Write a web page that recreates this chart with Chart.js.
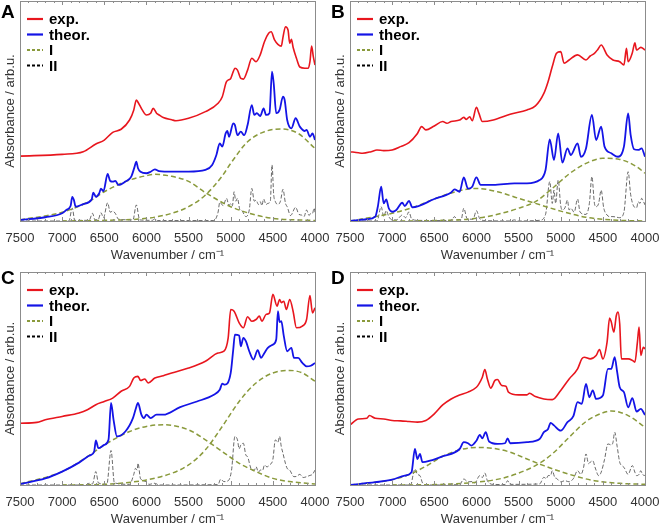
<!DOCTYPE html>
<html>
<head>
<meta charset="utf-8">
<script src="https://cdn.jsdelivr.net/npm/chart.js@4.4.0/dist/chart.umd.min.js"></script>
<style>
  body { margin: 0; background: #fff; }
  #wrap { position: relative; width: 660px; height: 527px; }
  #wrap canvas { position: absolute; }
  .tag { position: absolute; font: bold 19px "Liberation Sans", Arial, sans-serif; color: #000; }
</style>
</head>
<body>
<div id="wrap">
  <canvas id="cA" width="330" height="263" style="left:0;top:0"></canvas>
  <canvas id="cB" width="330" height="263" style="left:330px;top:0"></canvas>
  <canvas id="cC" width="330" height="264" style="left:0;top:263px"></canvas>
  <canvas id="cD" width="330" height="264" style="left:330px;top:263px"></canvas>
  <div class="tag" style="left:1px;top:1px">A</div>
  <div class="tag" style="left:331px;top:1px">B</div>
  <div class="tag" style="left:1px;top:267px">C</div>
  <div class="tag" style="left:331px;top:267px">D</div>
</div>
<script>
// wavenumber ticks (cm-1), axis runs 7500 -> 4000
const xTicks = [7500, 7000, 6500, 6000, 5500, 5000, 4500, 4000];

// --- panel A ---
const aExp = [[7500,29.5],[7000,30.3],[6750,31.5],[6600,35],[6500,36.8],[6400,40.3],[6300,41.7],[6200,45.9],[6150,50.5],[6120,55],[6100,54],[6050,50.5],[6000,48.2],[5950,49],[5920,51.2],[5880,49],[5850,48.2],[5800,47],[5700,46],[5650,45.6],[5500,46.7],[5300,49.7],[5150,53.5],[5100,56.5],[5050,63.3],[5000,64.8],[4970,67.9],[4950,69.4],[4920,68.6],[4880,64.8],[4850,64.5],[4800,68.6],[4750,74],[4700,72.4],[4650,75.5],[4600,81.5],[4550,85.3],[4520,86],[4480,82.3],[4440,80.3],[4400,79.5],[4380,83.5],[4350,88.3],[4320,86.8],[4300,80.8],[4280,82.6],[4260,79],[4220,74],[4180,70],[4120,69.4],[4080,69.4],[4060,72.4],[4040,79.5],[4020,74.7],[4000,70.9]];
const aTheor = [[7500,0.5],[7200,1.7],[7000,3.5],[6950,5],[6900,6.8],[6880,11],[6860,9.5],[6840,6.5],[6750,7.7],[6650,9.8],[6630,12.9],[6600,11],[6560,12.6],[6540,14.7],[6510,13.6],[6460,21.4],[6430,18.2],[6400,17.9],[6370,18.2],[6330,16.4],[6250,17.9],[6180,20.2],[6140,24.7],[6120,27],[6100,24],[6070,22.4],[6000,21.7],[5950,22.4],[5900,23.5],[5850,22.7],[5700,22.4],[5500,22.4],[5300,23.2],[5220,25.5],[5170,30],[5130,35.3],[5100,33.8],[5060,39.8],[5040,40.9],[5020,38.3],[4970,44.4],[4950,43.6],[4920,39],[4880,40.6],[4840,39],[4800,43.6],[4750,52.7],[4720,48.2],[4690,49],[4650,47.7],[4610,51.2],[4580,48.2],[4540,49],[4510,67.9],[4490,62.6],[4460,49],[4420,50.5],[4380,56.5],[4360,55],[4330,45.9],[4280,42.1],[4230,46.7],[4180,42.9],[4120,40.9],[4100,41.4],[4060,38.3],[4030,39.8],[4000,36.8]];
const aBandI1 = [[7500,0.5],[7000,4],[6700,8.5],[6500,13.3],[6200,18.6],[6000,20.6],[5900,21.2],[5700,20.3],[5500,18],[5300,12.9],[5000,6.5],[4700,2.7],[4500,1.2],[4000,0.2]];
const aBandI2 = [[7000,0],[6500,0.3],[6000,1.2],[5700,3.5],[5500,6.5],[5300,11.8],[5100,20.5],[5000,26.2],[4800,36],[4600,40.6],[4400,41.8],[4200,39.8],[4000,33]];
const aBandII = [[7500,0],[6920,0],[6880,5.8],[6850,0.3],[6680,0.3],[6640,3.5],[6610,0.5],[6570,0.8],[6540,3.8],[6510,1.5],[6460,8.3],[6430,4],[6400,4.5],[6370,3.5],[6330,0.8],[6160,0.5],[6120,7.3],[6080,0.5],[5930,0.3],[5900,1],[5870,0.2],[5200,0.2],[5150,4],[5130,8.5],[5090,7],[5050,10.3],[5020,7],[5000,8],[4980,7],[4960,13.3],[4940,9],[4920,10.3],[4890,5],[4870,4.7],[4820,2],[4780,5],[4750,14.8],[4720,9],[4700,9.5],[4670,7.5],[4650,8.8],[4630,7],[4610,10],[4580,7.5],[4560,8],[4530,9],[4510,25.5],[4490,12],[4470,8.8],[4440,7.5],[4410,9],[4380,14.4],[4350,8],[4330,6.5],[4290,2.5],[4230,6.2],[4190,3],[4160,2.7],[4130,2],[4100,5],[4070,2.5],[4050,3.5],[4030,3.5],[4010,5.8],[4000,4]];

// --- panel B ---
const bExp = [[7500,31.5],[7400,31],[7350,30.8],[7250,31.5],[7180,32.3],[7100,32],[7000,32.3],[6900,33.8],[6800,35.6],[6700,39.8],[6650,42.9],[6600,41.4],[6500,43.2],[6400,45.2],[6350,44.4],[6300,45.2],[6200,45.9],[6150,47.1],[6120,46.2],[6080,47.4],[6050,45.6],[6000,51.7],[5970,48.9],[5930,45.2],[5800,45.9],[5600,48.5],[5400,50.5],[5300,52.3],[5200,58],[5150,63.3],[5100,70.2],[5050,76.2],[5000,77],[4960,71.7],[4900,73.2],[4800,75.5],[4700,73.2],[4650,75],[4600,76.2],[4560,78],[4520,80],[4450,75.5],[4380,73.2],[4300,72.4],[4250,70.9],[4220,78.5],[4200,72.4],[4150,76.5],[4120,81],[4100,77.7],[4050,78.9],[4000,77.7]];
const bTheor = [[7500,0],[7300,0.8],[7200,2],[7170,6.5],[7130,15.6],[7100,8],[7070,9.8],[7040,5.8],[7000,4.2],[6950,5],[6880,8.3],[6850,6.8],[6800,9.1],[6760,6.2],[6500,10],[6300,13],[6260,14.4],[6200,13.3],[6150,19.8],[6100,14.7],[6050,15.6],[6000,19.8],[5950,16.4],[5800,16.4],[5550,17.1],[5400,17.1],[5250,18.6],[5180,23.2],[5130,37.1],[5080,27.7],[5030,39.8],[4980,26.5],[4920,33],[4880,30],[4800,35.3],[4760,29.2],[4700,33],[4630,48.2],[4580,36.8],[4520,42.9],[4480,33.8],[4400,30.8],[4320,29.2],[4250,33.8],[4200,48.9],[4170,39],[4130,32.6],[4080,32.3],[4040,33],[4000,29.2]];
const bBandI1 = [[7500,0],[7000,3.5],[6750,6.2],[6500,10],[6250,13.3],[6000,14.8],[5750,13.3],[5500,10.3],[5300,8],[5000,4.5],[4700,1.7],[4400,0.5],[4000,0]];
const bBandI2 = [[7000,0],[6500,0.2],[6000,1.2],[5700,3.5],[5500,5.8],[5300,8.8],[5100,14.8],[4900,21.4],[4700,26.2],[4500,28.5],[4300,28],[4100,24.7],[4000,21.7]];
const bBandII = [[7500,0],[7180,0],[7130,6.5],[7100,2],[7070,4.7],[7040,2],[7000,0.5],[6950,0.5],[6880,2.7],[6840,1.5],[6800,4.2],[6770,1],[6700,0.3],[6300,0.2],[6260,2],[6230,0.5],[6180,0.8],[6150,5.8],[6110,1],[6040,0.8],[6000,4.7],[5960,1],[5900,0.2],[5600,0],[5550,0.5],[5500,0],[5250,0.3],[5180,3],[5130,17.9],[5100,8],[5080,14],[5060,8],[5030,18.6],[5000,7],[4980,5],[4950,6],[4920,9.5],[4900,5],[4880,5.8],[4840,4],[4800,10],[4770,4],[4700,3],[4660,8],[4630,20.2],[4600,8],[4580,6.5],[4550,8],[4520,14],[4490,6],[4450,2.7],[4420,2],[4380,2],[4300,1.5],[4250,4],[4200,22.4],[4170,12],[4130,6.5],[4100,6],[4080,8.8],[4060,8],[4040,10.3],[4020,9],[4000,7.3]];

// --- panel C ---
const cExp = [[7500,29],[7300,29.4],[7200,30.6],[7000,32.2],[6800,33.8],[6700,35.3],[6600,37.7],[6500,39.2],[6400,40.8],[6300,44],[6200,46.3],[6150,50.2],[6100,51],[6070,49.1],[6020,49.8],[5980,47.9],[5900,50.2],[5800,51.3],[5700,52.6],[5500,54.9],[5300,58.1],[5150,62],[5080,62.8],[5030,69.1],[5000,82.4],[4960,81.6],[4900,76.1],[4850,73.8],[4800,79],[4750,76.9],[4700,77.7],[4660,79.3],[4630,76.9],[4580,80.1],[4540,80.8],[4500,89.5],[4450,84],[4420,87.1],[4400,85.6],[4370,86.3],[4340,82.4],[4300,87.1],[4260,81.6],[4220,73.8],[4150,74.6],[4100,77.7],[4060,89],[4030,80.8],[4000,83.2]];
const cTheor = [[7500,0.5],[7200,3.1],[7000,6.3],[6800,10.5],[6700,13.3],[6660,14.1],[6620,15.7],[6600,20.9],[6570,17.3],[6500,18.8],[6450,21.2],[6420,38.5],[6390,30.6],[6350,22.8],[6250,25.1],[6160,31.4],[6130,35.3],[6100,38.5],[6060,33],[6030,31.4],[6000,33],[5950,31.4],[5880,33],[5800,33],[5600,36.6],[5400,39.2],[5200,42.4],[5130,44.7],[5100,47.6],[5070,47.1],[5000,52.6],[4970,63.6],[4950,70.6],[4900,70.2],[4880,65.1],[4850,69.1],[4820,67.5],[4780,62.8],[4730,58.9],[4680,63.3],[4640,59.7],[4600,62],[4560,64.4],[4500,65.9],[4460,68.3],[4440,81.6],[4420,76.5],[4400,76.9],[4370,69.9],[4330,62.8],[4280,64.4],[4250,59.7],[4200,59.7],[4150,57.3],[4100,55.7],[4050,56],[4000,57.3]];
const cBandI1 = [[7500,0.5],[7000,6.3],[6700,13.3],[6500,18.8],[6200,25.1],[6000,27.5],[5800,28.3],[5500,25.9],[5300,21.2],[5100,15.7],[4900,10.2],[4700,6.3],[4500,3.1],[4300,1.6],[4000,0.5]];
const cBandI2 = [[7000,0],[6500,0.3],[6000,2.4],[5700,5.5],[5500,9.4],[5300,16.5],[5100,27.5],[4900,39.2],[4700,47.9],[4500,52.6],[4300,53.8],[4150,52.6],[4000,48.7]];
const cBandII = [[7500,0],[6720,0],[6680,0.8],[6640,0.5],[6600,6.3],[6570,1],[6470,0.3],[6420,16.2],[6380,1],[6200,0.3],[6150,5],[6130,7.8],[6110,7],[6100,10.2],[6070,3],[6000,1.6],[5970,0.3],[5900,0.8],[5850,0],[5150,0.2],[5120,2.7],[5080,1.6],[5030,2],[4990,7],[4950,22.8],[4920,21.2],[4900,17],[4880,18.8],[4850,19.6],[4820,14],[4800,13.3],[4770,9],[4750,7],[4720,7],[4700,8.6],[4670,6],[4650,7],[4620,7],[4600,9.4],[4570,8.5],[4540,9.4],[4500,12],[4470,21.2],[4440,20],[4420,22.8],[4400,18],[4380,14.9],[4350,10],[4330,7.8],[4300,7],[4250,3.9],[4220,4],[4180,5],[4140,3.5],[4100,3.9],[4060,4.5],[4030,5],[4000,7]];

// --- panel D ---
const dExp = [[7500,28.2],[7400,31],[7300,31.3],[7270,32.6],[7200,31.3],[7100,31],[7000,30.3],[6900,30.1],[6800,29.8],[6700,29.5],[6600,30.3],[6500,33.4],[6400,37.6],[6300,40.4],[6200,42.3],[6100,43.6],[6000,45.9],[5970,47.5],[5930,50.6],[5900,54.2],[5870,49.8],[5830,45.5],[5780,49.1],[5750,49.5],[5700,46.7],[5650,46.4],[5620,43.6],[5500,42.3],[5400,42.3],[5370,43.1],[5300,41.5],[5200,40.4],[5100,40.1],[5000,44.4],[4900,49.8],[4800,54.5],[4750,59.2],[4720,60],[4650,59.2],[4580,60.8],[4540,63.6],[4500,59.2],[4450,67.1],[4420,78.4],[4400,76.5],[4370,71.8],[4340,79.6],[4320,81.2],[4300,75.7],[4280,59.2],[4200,59.2],[4150,58.5],[4120,57.7],[4090,67.1],[4070,74.1],[4050,60.8],[4020,64.7],[4000,63.9]];
const dTheor = [[7500,0],[7200,1.3],[7000,2.5],[6850,4.4],[6770,6],[6730,16.9],[6700,12.2],[6670,14.6],[6640,10.7],[6550,11.4],[6400,13.5],[6200,16.9],[6150,20.1],[6100,19.6],[6060,18.5],[6000,20.8],[5960,23.5],[5930,21.9],[5890,24.8],[5850,20.4],[5750,19.3],[5660,19.6],[5630,21.9],[5600,19.6],[5400,20.1],[5250,21.6],[5200,24.8],[5150,26.3],[5120,29.2],[5080,28],[5000,25.5],[4920,29.5],[4850,32.3],[4800,38.9],[4750,38.1],[4700,47.5],[4660,41.2],[4620,44.4],[4580,40.4],[4500,42],[4440,54.5],[4400,54.5],[4360,60],[4330,53],[4300,45.9],[4250,43.6],[4200,36.5],[4150,40.8],[4100,34.5],[4050,35.7],[4000,32.9]];
const dBandI1 = [[7500,0],[7000,2.5],[6800,4.9],[6600,8.8],[6400,13.5],[6200,16.5],[6000,17.6],[5800,17.2],[5600,15.4],[5400,12.2],[5200,9.1],[5000,6.3],[4800,3.9],[4600,2],[4300,0.8],[4000,0.3]];
const dBandI2 = [[7000,0],[6500,0.2],[6000,1.3],[5700,3.1],[5500,5.6],[5300,9.1],[5100,14.6],[4900,22.4],[4700,29.8],[4500,33.9],[4400,34.8],[4200,32.6],[4000,27.1]];
const dBandII = [[7500,0],[6780,0],[6750,5],[6730,7.5],[6700,5],[6670,4.4],[6640,1],[6600,0],[6200,0.2],[6150,2.8],[6100,1.5],[6050,1.6],[6020,1],[5960,4.4],[5930,3.5],[5900,5.6],[5870,2],[5800,0.3],[5660,0.2],[5630,2],[5600,0.3],[5250,0.5],[5200,3.6],[5170,3],[5150,4.4],[5120,4.5],[5100,6.7],[5070,3.5],[5050,3.1],[5000,1.5],[4950,2],[4900,1.5],[4850,3],[4800,6.7],[4760,5],[4730,8],[4700,14.6],[4670,10],[4650,10.7],[4620,11.4],[4590,8],[4550,4.4],[4520,6],[4480,12],[4440,19.3],[4400,18.8],[4380,20],[4360,24.8],[4330,18],[4300,10.7],[4270,9],[4250,8.3],[4200,5],[4150,9.1],[4120,6],[4100,4.4],[4070,5],[4050,6.7],[4030,5],[4000,4.4]];

const FONT = '"Liberation Sans", Arial, Helvetica, sans-serif';
const RED = '#e8161e', BLUE = '#1414e6', OLIVE = '#8a9a3c', DARK = '#333333';

function pts(arr) {
  return arr.map(p => ({ x: p[0], y: p[1] }));
}

// box around the plot with inward ticks, matlab style
const frame = {
  id: 'frame',
  afterDatasetsDraw(chart) {
    const { ctx, chartArea: a, scales: { x } } = chart;
    ctx.save();
    ctx.strokeStyle = '#8c8c8c';
    ctx.lineWidth = 1;
    ctx.strokeRect(Math.round(a.left) + 0.5, Math.round(a.top) + 0.5, Math.round(a.right - a.left), Math.round(a.bottom - a.top));
    for (let v = 4000; v <= 7500; v += 100) {
      const px = Math.round(x.getPixelForValue(v)) + 0.5;
      const len = v % 500 === 0 ? 4 : 2;
      ctx.beginPath();
      ctx.moveTo(px, a.top); ctx.lineTo(px, a.top + len);
      ctx.moveTo(px, a.bottom); ctx.lineTo(px, a.bottom - len);
      ctx.stroke();
    }
    ctx.restore();
  }
};

// legend drawn inside the top-left corner
const keyBox = {
  id: 'keyBox',
  afterDraw(chart) {
    const { ctx, chartArea: a } = chart;
    let row = 0;
    chart.data.datasets.forEach(ds => {
      if (!ds.label) return;
      const y = a.top + 18 + row * 15.5;
      ctx.save();
      ctx.strokeStyle = ds.keyColor || ds.borderColor;
      ctx.lineWidth = 2.2;
      ctx.setLineDash(ds.keyDash || []);
      ctx.beginPath();
      ctx.moveTo(a.left + 7, y);
      ctx.lineTo(a.left + 23, y);
      ctx.stroke();
      ctx.fillStyle = '#000';
      ctx.font = 'bold 15px ' + FONT;
      ctx.textBaseline = 'middle';
      ctx.fillText(ds.label, a.left + 29, y + 1);
      ctx.restore();
      row++;
    });
  }
};

function makePanel(id, exp, theor, bandI1, bandI2, bandII, padTop) {
  const line = { pointRadius: 0, fill: false, cubicInterpolationMode: 'monotone' };
  new Chart(document.getElementById(id), {
    type: 'line',
    data: {
      datasets: [
        { ...line, label: 'exp.', data: pts(exp), borderColor: RED, borderWidth: 1.6 },
        { ...line, label: 'theor.', data: pts(theor), borderColor: BLUE, borderWidth: 1.8 },
        { ...line, label: 'I', data: pts(bandI1), borderColor: OLIVE, borderWidth: 1.5, borderDash: [5, 3], keyDash: [3, 2] },
        { ...line, data: pts(bandI2), borderColor: OLIVE, borderWidth: 1.5, borderDash: [5, 3] },
        { ...line, label: 'II', data: pts(bandII), borderColor: '#444', borderWidth: 0.8, borderDash: [4, 2], keyColor: '#000', keyDash: [3, 2] }
      ]
    },
    options: {
      responsive: false,
      animation: false,
      devicePixelRatio: 1,
      events: [],
      layout: { autoPadding: false, padding: { top: padTop, right: 15, left: 0, bottom: 0 } },
      plugins: { legend: { display: false }, tooltip: { enabled: false } },
      scales: {
        x: {
          type: 'linear',
          reverse: true,
          min: 4000,
          max: 7500,
          afterBuildTicks: s => { s.ticks = xTicks.map(v => ({ value: v })); },
          afterFit: s => { s.height = 42; s.paddingLeft = 0; s.paddingRight = 0; },
          grid: { display: false, drawTicks: false },
          border: { display: false },
          ticks: { color: DARK, font: { family: FONT, size: 13, lineHeight: 1 }, padding: 11, maxRotation: 0, callback: v => String(v) },
          title: { display: true, text: 'Wavenumber / cm⁻¹', color: DARK, font: { family: FONT, size: 13, lineHeight: 1.1 }, padding: { top: 0, bottom: 0 } }
        },
        y: {
          min: 0,
          max: 100,
          afterFit: s => { s.width = 20; s.paddingTop = 0; s.paddingBottom = 0; },
          grid: { display: false, drawTicks: false },
          border: { display: false },
          ticks: { display: false },
          title: { display: true, text: 'Absorbance / arb.u.', color: DARK, font: { family: FONT, size: 13 }, padding: { top: 3, bottom: 0 } }
        }
      }
    },
    plugins: [frame, keyBox]
  });
}

makePanel('cA', aExp, aTheor, aBandI1, aBandI2, aBandII, 1);
makePanel('cB', bExp, bTheor, bBandI1, bBandI2, bBandII, 1);
makePanel('cC', cExp, cTheor, cBandI1, cBandI2, cBandII, 9);
makePanel('cD', dExp, dTheor, dBandI1, dBandI2, dBandII, 9);
</script>
</body>
</html>
